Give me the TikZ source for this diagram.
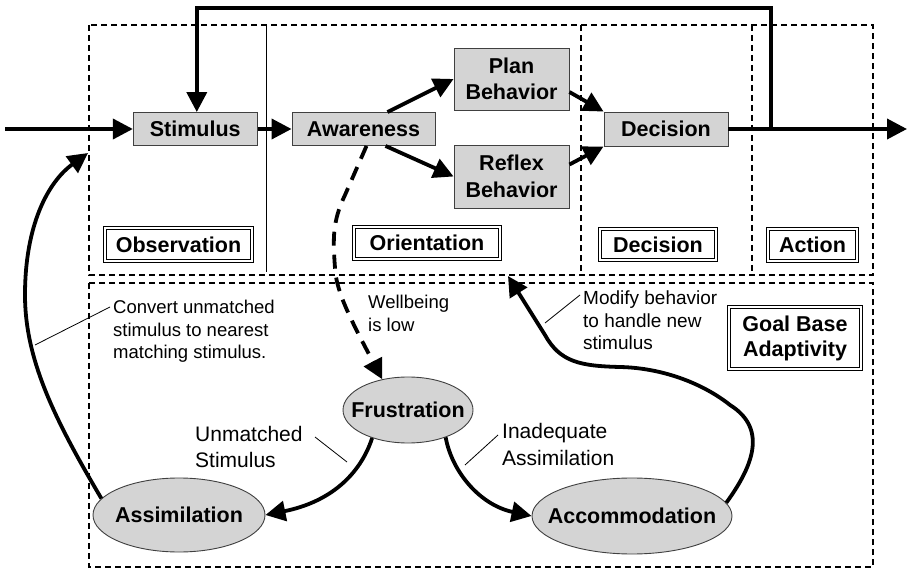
\documentclass[tikz,border=0pt]{standalone}
\usepackage{fontspec}
\setmainfont{Liberation Sans}
\usetikzlibrary{arrows.meta,shapes.geometric,calc}

\begin{document}
\begin{tikzpicture}[x=1pt,y=-1pt,
  bigbold/.style={font=\fontsize{21.5}{26.5}\selectfont\bfseries},
  stepbox/.style={bigbold, draw=black!75, line width=0.9pt, fill=black!17,
    align=center, inner sep=0pt},
  phase/.style={bigbold, draw=black, line width=0.7pt, double=white,
    double distance=2.2pt, align=center, inner sep=0pt},
  state/.style={ellipse, draw=black!75, line width=0.9pt, fill=black!17, inner sep=0pt},
  flow/.style={line width=3.8pt, line join=miter, -{Triangle[length=20pt,width=20pt]}},
  region/.style={dash pattern=on 6pt off 4pt, line width=1.1pt},
  note/.style={align=left, anchor=north west, inner sep=0pt},
  leader/.style={line width=0.8pt},
]
\useasboundingbox (0,0) rectangle (908,569);

% phase regions
\draw[region] (89,25) rectangle (873,275);
\draw[region] (581,25) -- (581,275);
\draw[region] (752,25) -- (752,275);
\draw[line width=0.9pt] (266,25) -- (266,272);
\draw[region, line width=1.4pt] (89,283) rectangle (873,567);

% phase titles
\node[phase, minimum width=147.4, minimum height=33.4] (tobs) at (178.5,244.5) {Observation};
\node[phase, minimum width=146.4, minimum height=32.4] (tori) at (427,243) {Orientation};
\node[phase, minimum width=116.4, minimum height=31.4] (tdec) at (658,244.5) {Decision};
\node[phase, minimum width=89.4, minimum height=32.4] (tact) at (812.5,245) {Action};
\node[phase, minimum width=132.4, minimum height=62.4, font=\fontsize{21.5}{25}\selectfont\bfseries] (tgoal) at (795,338) {Goal Base\\Adaptivity};

% process steps
\node[stepbox, minimum width=124, minimum height=33] (st) at (195.3,129) {Stimulus};
\node[stepbox, minimum width=143, minimum height=33] (aw) at (363.5,129) {Awareness};
\node[stepbox, minimum width=115, minimum height=62] (pl) at (511.5,79) {Plan\\Behavior};
\node[stepbox, minimum width=115, minimum height=63] (rf) at (511.5,176.5) {Reflex\\Behavior};
\node[stepbox, minimum width=124, minimum height=34] (dec) at (666,129) {Decision};

% adaptation states
\node[state, minimum width=130, minimum height=66,
  label={[bigbold]center:Frustration}] (fr) at (408,410) {};
\node[state, minimum width=172, minimum height=74,
  label={[bigbold]center:Assimilation}] (as) at (179,515) {};
\node[state, minimum width=200, minimum height=76,
  label={[bigbold]center:Accommodation}] (acc) at (632,516) {};

% main flow
\coordinate (in) at (5,129);
\coordinate (out) at (907,129);
\coordinate (fb) at (771,129);
\coordinate (fbR) at (771,8);
\coordinate (fbL) at (196.8,8);
\draw[flow] (in) -- (st.west);
\draw[flow] (st.east) -- (aw.west);
\draw[flow] ([xshift=24pt]aw.north) -- (pl.west);
\draw[flow] ([xshift=22pt]aw.south) -- (rf.west);
\draw[flow] ([yshift=-13pt]pl.east) -- (dec.north west);
\draw[flow] ([yshift=12pt]rf.east) -- (dec.south west);
\draw[flow] (dec.east) -- (out);
\draw[flow] (fb) -- (fbR) -- (fbL) -- ([xshift=1.5pt]st.north);

% low wellbeing leads to frustration
\draw[flow, dash pattern=on 14pt off 9pt]
  ([xshift=3pt]aw.south) -- (345,195)
  .. controls (332,222) and (333,240) .. (335,268)
  .. controls (336,292) and (352,322) .. (fr.130);

% adaptation loops
\draw[flow] (fr.218) .. controls (360,475) and (330,502) .. (as.east);
\draw[flow] (fr.-36) .. controls (452,472) and (480,505) .. (acc.west);

\coordinate (modtip) at (508,276);
\draw[flow] (acc.8) .. controls (750,470) and (770,430) .. (730,405)
  .. controls (705,385) and (665,368) .. (620,367)
  .. controls (580,366) and (560,362) .. (545,335) -- (modtip);

\coordinate (convtip) at (88,153);
\draw[flow] (as.168) .. controls (55,420) and (25,360) .. (25,295)
  .. controls (25,225) and (48,182) .. (convtip);

% annotations
\node[note, font=\fontsize{18.5}{22.5}\selectfont] (conv) at (113,300)
  {Convert unmatched\\stimulus to nearest\\matching stimulus.};
\node[note, font=\fontsize{18.5}{23}\selectfont] (well) at (368,295)
  {Wellbeing\\is low};
\node[note, font=\fontsize{21}{26}\selectfont] (unm) at (195,426)
  {Unmatched\\Stimulus};
\node[note, font=\fontsize{21}{27}\selectfont] (inad) at (502,423)
  {Inadequate\\Assimilation};
\node[note, font=\fontsize{19}{22.5}\selectfont] (mod) at (583,291)
  {Modify behavior\\to handle new\\stimulus};

\coordinate (cA) at (35,345); \coordinate (cB) at (110,307);
\coordinate (uA) at (315,437); \coordinate (uB) at (347,462);
\coordinate (iA) at (465,465); \coordinate (iB) at (498,435);
\coordinate (mA) at (545,323); \coordinate (mB) at (580,295);
\draw[leader] (cA) -- (cB);
\draw[leader] (uA) -- (uB);
\draw[leader] (iA) -- (iB);
\draw[leader] (mA) -- (mB);
\end{tikzpicture}
\end{document}
